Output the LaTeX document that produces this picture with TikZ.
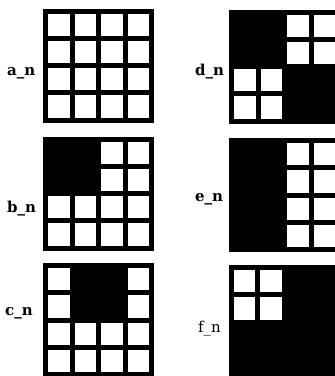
\documentclass[tikz,border=0pt]{standalone}
\usepackage{fontspec}
\setmainfont{DejaVu Serif}
\newcommand\gridat[3]{%
  \fill[gridbox] (#1,#2) rectangle ++(111,114);
  \foreach \c/\r in {#3} {\fill[cellbox] ({#1+5+\c*26.5},{#2+5+\r*27.25}) rectangle ++(21.5,22.25);}
}
\begin{document}
\begin{tikzpicture}[x=1pt,y=-1pt,
  gridbox/.style={fill=black},
  cellbox/.style={fill=white},
  lab/.style={anchor=base west, inner sep=0pt, font=\fontsize{15}{18}\selectfont\bfseries},
  labr/.style={anchor=base west, inner sep=0pt, font=\fontsize{15}{18}\selectfont}]
\useasboundingbox (0,0) rectangle (335,376);
\clip (0,0) rectangle (335,376);
\fill[white] (0,0) rectangle (335,376);
% a
\gridat{43}{8.5}{0/0,1/0,2/0,3/0,0/1,1/1,2/1,3/1,0/2,1/2,2/2,3/2,0/3,1/3,2/3,3/3}
% b
\gridat{43}{136.5}{2/0,3/0,2/1,3/1,0/2,1/2,2/2,3/2,0/3,1/3,2/3,3/3}
% c
\gridat{43}{263}{0/0,3/0,0/1,3/1,0/2,1/2,2/2,3/2,0/3,1/3,2/3,3/3}
% d
\gridat{229}{9.5}{2/0,3/0,2/1,3/1,0/2,1/2,0/3,1/3}
% e
\gridat{229}{138}{2/0,3/0,2/1,3/1,2/2,3/2,2/3,3/3}
% f
\gridat{228.5}{265}{0/0,1/0,0/1,1/1}
\node[lab] (la) at (7,75) {a\_n};
\node[lab] (lb) at (7,212) {b\_n};
\node[lab] (lc) at (5,315) {c\_n};
\node[lab] (ld) at (195,75) {d\_n};
\node[lab] (le) at (195,201) {e\_n};
\node[labr] (lf) at (198,332) {f\_n};
\end{tikzpicture}
\end{document}
